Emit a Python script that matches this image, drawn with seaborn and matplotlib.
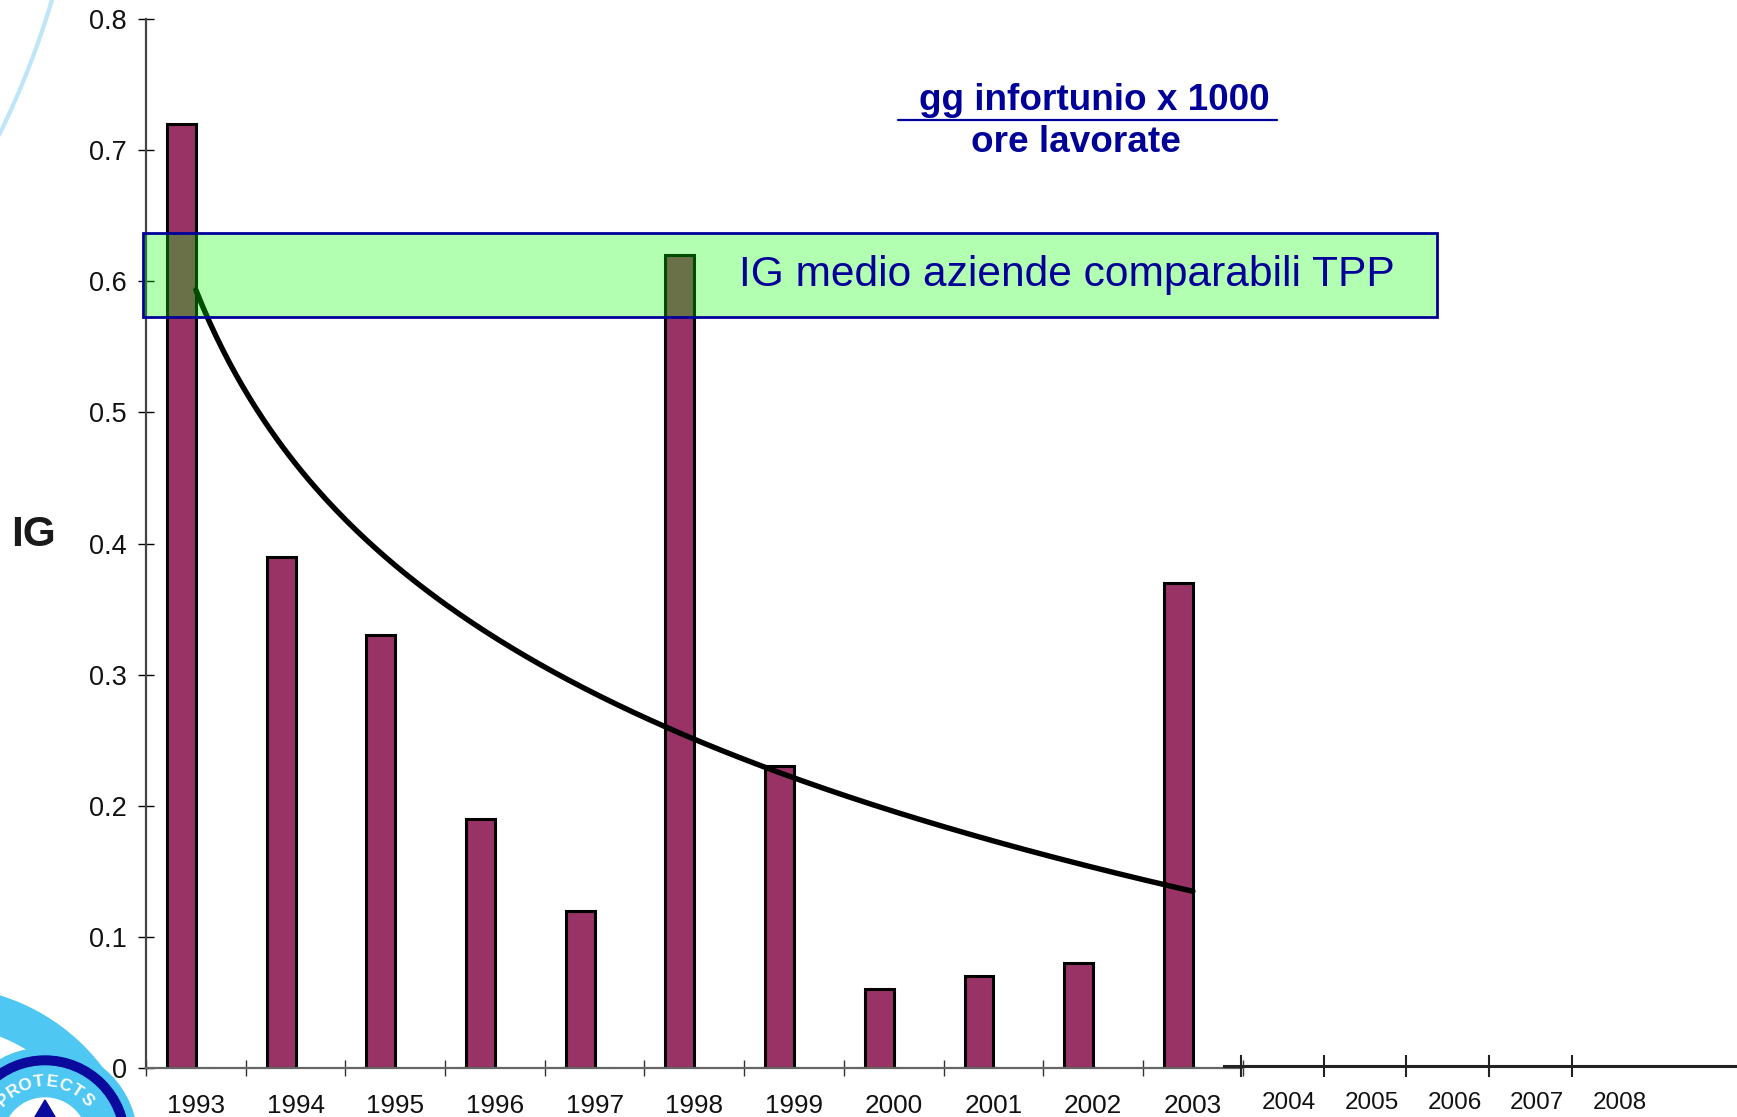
import numpy as np
import pandas as pd
import matplotlib
matplotlib.use("Agg")
import matplotlib.pyplot as plt
import seaborn as sns
from matplotlib.patches import Rectangle, Circle, Polygon
from matplotlib.lines import Line2D
from matplotlib.transforms import Affine2D

# ---------------- data ----------------
years = [1993, 1994, 1995, 1996, 1997, 1998, 1999, 2000, 2001, 2002, 2003]
ig_values = [0.72, 0.39, 0.33, 0.19, 0.12, 0.62, 0.23, 0.06, 0.07, 0.08, 0.37]
future_years = [2004, 2005, 2006, 2007, 2008]
benchmark_low = 0.573
benchmark_high = 0.637
benchmark_label = "IG medio aziende comparabili TPP"
formula_top = "gg infortunio x 1000"
formula_bottom = "ore lavorate"
y_title = "IG"
y_ticks = [0.0, 0.1, 0.2, 0.3, 0.4, 0.5, 0.6, 0.7, 0.8]
y_tick_labels = ["0", "0.1", "0.2", "0.3", "0.4", "0.5", "0.6", "0.7", "0.8"]
logo_word = "PROTECTS"

# ---------------- style ----------------
W, H = 1737, 1117
sns.set_style("white")
plt.rcParams["font.family"] = ["Liberation Sans", "DejaVu Sans"]

fig = plt.figure(figsize=(W / 100, H / 100), dpi=100)
fig.patch.set_facecolor("white")


def fx(px):
    return px / W


def fy(py):
    return 1 - py / H


pix = Affine2D().scale(1 / W, -1 / H).translate(0, 1) + fig.transFigure

# ---------------- background decorations ----------------
t = np.radians(np.linspace(6, 34, 100))
fig.add_artist(Line2D(-765 + 852 * np.cos(t), -242 + 852 * np.sin(t), transform=pix,
                      color="#bfe5f8", lw=3, zorder=-2))
cyan = "#4ec8f2"
navy = "#0a0a9c"
fig.add_artist(Circle((-60, 1190), 203, transform=pix, color=cyan, zorder=-3))
fig.add_artist(Circle((-60, 1190), 164, transform=pix, color="white", zorder=-3))
fig.add_artist(Circle((45, 1140), 92, transform=pix, color=cyan, zorder=-3))
fig.add_artist(Circle((45, 1140), 84, transform=pix, color=navy, zorder=-3))
fig.add_artist(Circle((45, 1140), 74, transform=pix, color=cyan, zorder=-3))
fig.add_artist(Circle((45, 1140), 42, transform=pix, color="white", zorder=-3))
fig.add_artist(Polygon([(45, 1100), (23, 1137), (67, 1137)], closed=True,
                       transform=pix, color=navy, zorder=-3))
angs = np.linspace(136, 44, len(logo_word))
for ch, a in zip(logo_word, angs):
    r = 58
    fig.text(45 + r * np.cos(np.radians(a)), 1140 - r * np.sin(np.radians(a)), ch,
             transform=pix, rotation=a - 90, ha="center", va="center",
             fontsize=12.5, fontweight="bold", color="white", zorder=-2)

# ---------------- main axes ----------------
STEP = 99.7
AX_L, AX_T, AX_B = 146, 19, 1068
AX_R = AX_L + STEP * len(years)
ax = fig.add_axes([fx(AX_L), fy(AX_B), (AX_R - AX_L) / W, (AX_B - AX_T) / H])
ax.patch.set_visible(False)

n = len(years)
df = pd.DataFrame({
    "year": years + years,
    "IG": ig_values + [0.0] * n,
    "serie": ["IG"] * n + ["vuota"] * n,
})
sns.barplot(data=df, x="year", y="IG", hue="serie", hue_order=["IG", "vuota"],
            palette={"IG": "#993366", "vuota": "#993366"}, native_scale=True,
            width=0.58, dodge=True, errorbar=None, edgecolor="black",
            linewidth=2.2, saturation=1, legend=False, ax=ax, zorder=2)
for bar in ax.containers[1]:
    bar.set_visible(False)

# logarithmic trend line (least squares on ln of the period index)
idx = np.arange(1, n + 1)
slope, intercept = np.polyfit(np.log(idx), ig_values, 1)
tt = np.linspace(1, n, 300)
trend_df = pd.DataFrame({"year": years[0] - 1 + tt, "trend": intercept + slope * np.log(tt)})
sns.lineplot(data=trend_df, x="year", y="trend", color="black", linewidth=3.9,
             ax=ax, zorder=3, solid_capstyle="round")

ax.set_xlim(years[0] - 0.5, years[-1] + 0.5)
ax.set_ylim(0, 0.8)
ax.set_yticks(y_ticks)
ax.set_yticklabels(y_tick_labels)
ax.set_xticks(years)
ax.set_xticklabels([str(y) for y in years])
ax.set_xticks([y - 0.5 for y in years] + [years[-1] + 0.5], minor=True)
ax.tick_params(which="both", bottom=True, left=True)
ax.tick_params(axis="x", which="major", length=0, pad=19, labelsize=18.8, labelcolor="#111111")
ax.tick_params(axis="x", which="minor", length=12, width=1, direction="inout", color="#333333")
ax.tick_params(axis="y", which="major", length=11.5, width=1, direction="inout",
               color="black", pad=8.2, labelsize=19.5, labelcolor="#111111")
ax.set_xlabel("")
ax.set_ylabel("")
for s in ["top", "right"]:
    ax.spines[s].set_visible(False)
ax.spines["left"].set_color("#444444")
ax.spines["left"].set_linewidth(1.6)
ax.spines["bottom"].set_color("#666666")
ax.spines["bottom"].set_linewidth(1.6)

# benchmark band
x0 = years[0] - 0.53
x1 = years[0] - 0.5 + (1437 - AX_L) / STEP
ax.add_patch(Rectangle((x0, benchmark_low), x1 - x0, benchmark_high - benchmark_low,
                       facecolor=(0, 1, 0, 0.3), edgecolor="#000099", lw=2,
                       clip_on=False, zorder=4))
ax.text(years[0] - 0.5 + (1067 - AX_L) / STEP, (benchmark_low + benchmark_high) / 2,
        benchmark_label, ha="center", va="center", fontsize=30.6, color="#000099", zorder=5)

# ---------------- texts ----------------
fig.text(fx(1094.5), fy(110), formula_top, ha="center", va="baseline", fontsize=26.6,
         fontweight="bold", color="#000099")
fig.add_artist(Line2D([fx(898), fx(1277)], [fy(120), fy(120)], color="#000099", lw=1.6))
fig.text(fx(1076), fy(152), formula_bottom, ha="center", va="baseline", fontsize=26.6,
         fontweight="bold", color="#000099")
fig.text(fx(34), fy(535), y_title, ha="center", va="center", fontsize=30.5,
         fontweight="bold", color="#1a1a1a")

# ---------------- extension axis 2004-2008 ----------------
step_px = 82.75
ax2 = fig.add_axes([fx(1224), fy(1066), (W - 1224) / W, 0.02])
ax2.patch.set_visible(False)
for s in ["top", "right", "left"]:
    ax2.spines[s].set_visible(False)
ax2.spines["bottom"].set_color("#222222")
ax2.spines["bottom"].set_linewidth(2.2)
ax2.set_xlim(future_years[0] - 0.5 - (1241 - 1224) / step_px,
             future_years[0] - 0.5 + (W - 1241) / step_px)
ax2.set_yticks([])
ax2.set_xticks([y + 0.08 for y in future_years])
ax2.set_xticklabels([str(y) for y in future_years])
ax2.set_xticks([y - 0.5 for y in future_years], minor=True)
ax2.tick_params(which="both", bottom=True, left=False)
ax2.tick_params(axis="x", which="major", length=0, pad=18.5, labelsize=17.5, labelcolor="#111111")
ax2.tick_params(axis="x", which="minor", length=16.5, width=1.5, direction="inout", color="#222222")

fig.savefig("out.png", dpi=100, facecolor="white")
